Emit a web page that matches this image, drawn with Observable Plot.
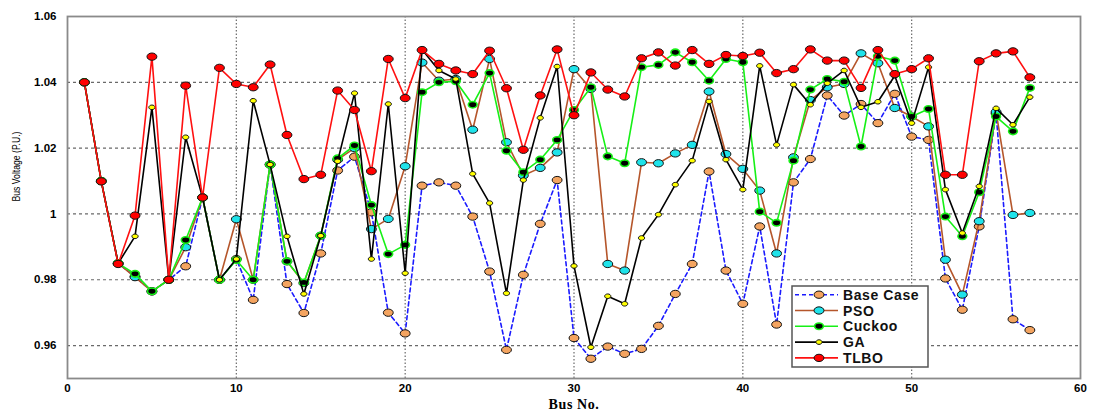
<!DOCTYPE html>
<html><head><meta charset="utf-8">
<script src="https://cdn.jsdelivr.net/npm/d3@7"></script>
<script src="https://cdn.jsdelivr.net/npm/@observablehq/plot@0.6"></script>
<style>
body{margin:0;background:#fff;}
#chart{width:1093px;height:416px;}
</style></head><body><div id="chart"></div>
<script>
const buses = d3.range(1, 58);
const xTicks = [0, 10, 20, 30, 40, 50, 60];
const yTicks = [0.96, 0.98, 1, 1.02, 1.04, 1.06];
const seriesNames = ["Base Case", "PSO", "Cuckoo", "GA", "TLBO"];

const baseCase = [1.040,1.010,0.985,0.981,0.9765,0.980,0.9841,1.005,0.980,0.9863,
  0.9739,1.015,0.9787,0.9699,0.988,1.0132,1.0174,1.0005,0.970,0.9637,
  1.0086,1.0096,1.0086,0.9992,0.9825,0.9587,0.9815,0.997,1.0103,0.9623,
  0.956,0.9597,0.9575,0.959,0.966,0.9757,0.9848,1.0129,0.9828,0.9727,
  0.9962,0.9664,1.0096,1.0167,1.036,1.0299,1.0334,1.0276,1.0365,1.0235,
  1.0225,0.9804,0.9709,0.9962,1.0305,0.968,0.9647];
const pso = [1.040,1.010,0.985,0.9808,0.9765,0.980,0.9899,1.005,0.980,0.9984,
  0.980,1.015,0.9856,0.979,0.9934,1.0165,1.020,0.9954,0.9985,1.0145,
  1.046,1.0405,1.041,1.0256,1.0471,1.0218,1.0117,1.014,1.0187,1.044,
  1.038,0.9848,0.9828,1.0157,1.0154,1.0184,1.021,1.0372,1.0182,1.0137,
  1.0071,0.988,1.0172,1.0346,1.0385,1.0395,1.0488,1.0458,1.0322,1.0296,
  1.0266,0.9861,0.9755,0.9978,1.031,0.9997,1.0003];
const cuckoo = [1.040,1.010,0.985,0.9818,0.9765,0.980,0.9921,1.005,0.980,0.986,
  0.980,1.015,0.9856,0.9792,0.9934,1.0169,1.0208,1.0027,0.9878,0.9906,
  1.037,1.040,1.0403,1.0332,1.0428,1.0192,1.0127,1.0165,1.0225,1.0316,
  1.0385,1.0175,1.0154,1.0446,1.0453,1.0491,1.0461,1.0405,1.0471,1.0461,
  1.0007,0.9973,1.0162,1.0378,1.041,1.0402,1.0205,1.0479,1.0466,1.0296,
  1.0319,0.9992,0.9932,1.0066,1.0296,1.0251,1.0383];
const ga = [1.040,1.010,0.985,0.9932,1.0324,0.980,1.0233,1.005,0.980,0.9863,
  1.0344,1.015,0.9932,0.9757,0.9934,1.016,1.0367,0.9863,1.0334,0.982,
  1.050,1.0436,1.041,1.0122,1.0033,0.9759,1.0103,1.0292,1.0448,0.9842,
  0.9595,0.975,0.9727,0.9927,0.9998,1.0089,1.0162,1.0342,1.0165,1.0074,
  1.045,1.021,1.0393,1.0332,1.0397,1.0436,1.0324,1.0341,1.042,1.0276,
  1.0446,1.0074,0.9942,1.0084,1.0321,1.0271,1.0355];
const tlbo = [1.040,1.0099,0.9848,0.9995,1.0478,0.980,1.039,1.005,1.0444,1.0395,
  1.0385,1.0454,1.024,1.0106,1.0119,1.0375,1.0316,1.013,1.0471,1.0352,
  1.0498,1.0456,1.0436,1.0425,1.0496,1.0382,1.0195,1.036,1.050,1.030,
  1.043,1.0378,1.0357,1.0473,1.0491,1.0451,1.0498,1.0456,1.0483,1.048,
  1.049,1.0428,1.044,1.050,1.0466,1.0466,1.0383,1.0498,1.0425,1.044,
  1.0473,1.0119,1.0119,1.0464,1.0488,1.0494,1.0415];

const seriesValues = [baseCase, pso, cuckoo, ga, tlbo];
const styles = {
  "Base Case": {line: "#1a1aff", dash: "4,3", fill: "#f4a460", stroke: "#111", r: 4.3},
  "PSO":       {line: "#b5562b", dash: null, fill: "#1fe3ea", stroke: "#111", r: 4.3},
  "Cuckoo":    {line: "#16f016", dash: null, fill: "#000", stroke: "#16f016", r: 3.8},
  "GA":        {line: "#000", dash: null, fill: "#ffff00", stroke: "#111", r: 2.7},
  "TLBO":      {line: "#ff1010", dash: null, fill: "#ff0000", stroke: "#111", r: 4.3}
};

const rows = seriesNames.flatMap((name, i) =>
  seriesValues[i].map((v, j) => ({series: name, bus: buses[j], v})));

const ellipse = {
  draw(ctx, size) {
    const r = Math.sqrt(size / Math.PI), rx = r * 1.15, ry = r * 0.85, k = 0.5523;
    ctx.moveTo(rx, 0);
    ctx.bezierCurveTo(rx, ry * k, rx * k, ry, 0, ry);
    ctx.bezierCurveTo(-rx * k, ry, -rx, ry * k, -rx, 0);
    ctx.bezierCurveTo(-rx, -ry * k, -rx * k, -ry, 0, -ry);
    ctx.bezierCurveTo(rx * k, -ry, rx, -ry * k, rx, 0);
    ctx.closePath();
  }
};

const seriesMarks = seriesNames.flatMap(name => {
  const s = styles[name];
  const d = rows.filter(r => r.series === name);
  return [
    Plot.line(d, {x: "bus", y: "v", stroke: s.line, strokeWidth: 1.6, strokeDasharray: s.dash}),
    Plot.dot(d, {x: "bus", y: "v", r: s.r, fill: s.fill, stroke: s.stroke,
      strokeWidth: name === "Cuckoo" ? 1.6 : 1, symbol: ellipse})
  ];
});

const chart = Plot.plot({
  width: 1093, height: 416,
  marginLeft: 67, marginRight: 13, marginTop: 16, marginBottom: 38,
  style: {fontFamily: "'Liberation Sans', Arial, sans-serif", color: "#000", background: "#fff"},
  x: {domain: [0, 60]},
  y: {domain: [0.95, 1.06]},
  marks: [
    Plot.gridY(yTicks.filter(d => d < 1.06), {stroke: "#6a6a6a", strokeOpacity: 1, strokeDasharray: "3,3", strokeWidth: 1.2}),
    Plot.gridX(xTicks.filter(d => d > 0 && d < 60), {stroke: "#6a6a6a", strokeOpacity: 1, strokeDasharray: "1.5,2", strokeWidth: 1.2}),
    Plot.frame({stroke: "#8a8a8a", strokeWidth: 1.8}),
    Plot.axisY(yTicks, {tickSize: 0, tickPadding: 11, fontWeight: "bold", fontSize: 11.5,
      tickFormat: d => d === 1 ? "1" : d.toFixed(2), label: null}),
    Plot.axisX(xTicks, {tickSize: 0, tickPadding: 5, fontWeight: "bold", fontSize: 11.5,
      tickFormat: d => String(d), label: null}),
    Plot.text(["Bus No."], {frameAnchor: "bottom", dy: 30, fontFamily: "'Liberation Serif', 'Times New Roman', serif",
      fontWeight: "bold", fontSize: 14}),
    Plot.text(["Bus Voltage (P.U.)"], {frameAnchor: "left", dx: -51, dy: 4, rotate: -90, fontSize: 10}),
    ...seriesMarks
  ]
});

document.getElementById("chart").appendChild(chart);

const svg = d3.select(chart);
svg.selectAll("text").filter(function() { return this.textContent === "Bus Voltage (P.U.)"; })
  .attr("textLength", 70).attr("lengthAdjust", "spacingAndGlyphs");
svg.selectAll("text").filter(function() { return this.textContent === "Bus No."; })
  .style("letter-spacing", "0.6px");

// Legend (inside plot, lower right)
const lg = svg.append("g").attr("font-family", "'Liberation Sans', Arial, sans-serif")
  .attr("text-anchor", "start");
lg.append("rect").attr("x", 792).attr("y", 286).attr("width", 136).attr("height", 81)
  .attr("fill", "#fff").attr("stroke", "#555").attr("stroke-width", 1.5);
seriesNames.forEach((name, i) => {
  const s = styles[name];
  const y = 294.7 + i * 15.8;
  lg.append("line").attr("x1", 795).attr("x2", 838).attr("y1", y).attr("y2", y)
    .attr("stroke", s.line).attr("stroke-width", 1.6).attr("stroke-dasharray", s.dash);
  const p = d3.path();
  ellipse.draw(p, Math.PI * s.r * s.r);
  lg.append("path").attr("d", p.toString()).attr("transform", `translate(819,${y})`)
    .attr("fill", s.fill).attr("stroke", s.stroke).attr("stroke-width", name === "Cuckoo" ? 1.6 : 1);
  lg.append("text").attr("x", 843).attr("y", y).attr("dy", "0.36em")
    .attr("text-anchor", "start")
    .attr("font-weight", "bold").attr("font-size", 14).attr("letter-spacing", "0.6px")
    .attr("fill", "#111").text(name);
});
</script></body></html>
